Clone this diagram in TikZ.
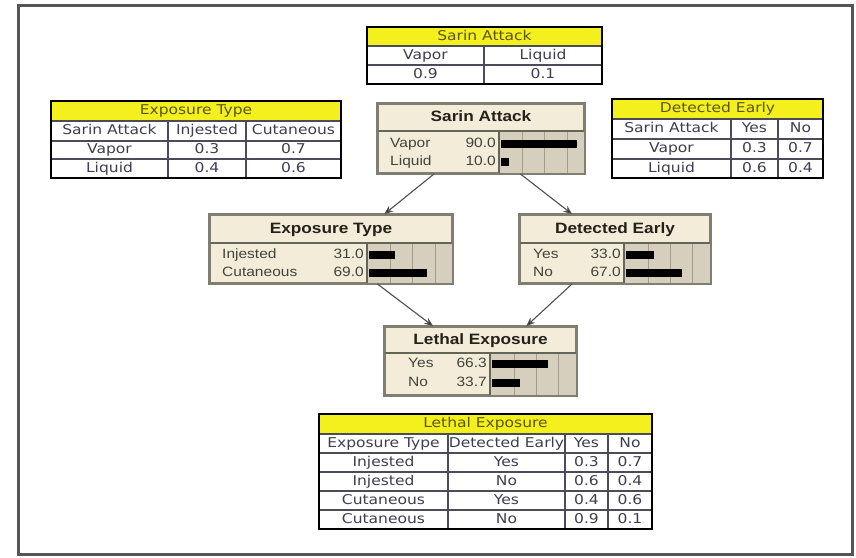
\documentclass[tikz,border=0pt]{standalone}
\usepackage{fontspec}
\setmainfont{Liberation Sans}
\newfontfamily\tabfont[FakeStretch=1.15]{DejaVu Sans}
\newfontfamily\netfont[FakeStretch=1.15]{Liberation Sans}
\usetikzlibrary{arrows.meta,calc}

\definecolor{frameink}{RGB}{85,85,85}
\definecolor{cptyellow}{RGB}{244,240,30}
\definecolor{cptink}{RGB}{62,62,80}
\definecolor{cpttitle}{RGB}{90,85,15}
\definecolor{cptline}{RGB}{75,75,90}
\definecolor{nodebg}{RGB}{243,236,216}
\definecolor{barbg}{RGB}{214,207,190}
\definecolor{gridink}{RGB}{165,157,140}
\definecolor{nodeedge}{RGB}{128,126,112}
\definecolor{nodeink}{RGB}{35,33,25}
\definecolor{linkink}{RGB}{80,80,80}

\tikzset{
  frame/.style={draw=frameink, line width=3pt},
  cptbox/.style={fill=white, draw=none, inner sep=0pt},
  cptedge/.style={draw=black, line width=1.8pt},
  cptrule/.style={draw=cptline, line width=1.1pt},
  cpttext/.style={font=\tabfont\fontsize{13.5}{13.5}\selectfont, text=cptink,
    inner sep=0pt, text height=10pt, text depth=3pt, anchor=center},
  cpthead/.style={cpttext, text=cpttitle},
  netbox/.style={fill=nodebg, draw=nodeedge, line width=1.6pt, inner sep=0pt},
  netrule/.style={draw=nodeedge!80!black, line width=1.2pt},
  gridline/.style={draw=gridink, line width=0.9pt},
  nettitle/.style={font=\netfont\bfseries\fontsize{15}{15}\selectfont,
    text=nodeink, inner sep=0pt, text height=11pt, text depth=3pt},
  netstate/.style={font=\netfont\fontsize{13.5}{13.5}\selectfont,
    text=nodeink!85!white, inner sep=0pt, text height=10pt, text depth=3pt},
  link/.style={draw=linkink, line width=1.1pt,
    -{Stealth[length=9pt, width=7pt, fill=black]}},
}

% one state line of a belief box: name, label x, row y, label, value, bar-area left, percent
\newcommand\beliefrow[7]{%
  \node[netstate, anchor=west] (#1l) at (#2,#3) {#4};
  \node[netstate, anchor=east] (#1v) at ({#6-3},#3) {#5};
  \fill[black] ({#6+2},{#3-4}) rectangle ({#6+2+0.84*#7},{#3+4});
}

% shaded bar area with its grid: left, top, right, bottom
\newcommand\bararea[4]{%
  \fill[barbg] (#1,#2) rectangle (#3,#4);
  \foreach \f in {0.28,0.54,0.80}
    \draw[gridline] ({#1+\f*(#3-#1)},#2) -- ({#1+\f*(#3-#1)},#4);
  \draw[netrule] (#1,#2) -- (#1,#4);
}

\begin{document}
\begin{tikzpicture}[x=1pt, y=-1pt]
\useasboundingbox (0,0) rectangle (856,557);
\fill[white] (0,0) rectangle (856,557);
\draw[frame] (18,5) rectangle (852,554);

% ---------- prior table: Sarin Attack ----------
\node[cptbox, minimum width=235pt, minimum height=57pt] (cptSA) at (484.5,55.5) {};
\fill[cptyellow] (367,27) rectangle (602,46);
\draw[cptrule] (367,46) -- (602,46) (367,65) -- (602,65);
\draw[cptrule] (484,46) -- (484,84);
\draw[cptedge] (cptSA.north west) rectangle (cptSA.south east);
\node[cpthead] (cptSAt) at (484.5,36.5) {Sarin Attack};
\node[cpttext] (cptSAa) at (425.5,55.5) {Vapor};
\node[cpttext] (cptSAb) at (543,55.5) {Liquid};
\node[cpttext] (cptSAc) at (425.5,74.5) {0.9};
\node[cpttext] (cptSAd) at (543,74.5) {0.1};

% ---------- conditional table: Exposure Type ----------
\node[cptbox, minimum width=290pt, minimum height=77pt] (cptET) at (196,139.5) {};
\fill[cptyellow] (51,101) rectangle (341,121);
\draw[cptrule] (51,121) -- (341,121) (51,141) -- (341,141) (51,159) -- (341,159);
\draw[cptrule] (168,121) -- (168,178) (246,121) -- (246,178);
\draw[cptedge] (cptET.north west) rectangle (cptET.south east);
\node[cpthead] (cptETt) at (196,111) {Exposure Type};
\node[cpttext] (cptETh1) at (109.5,131) {Sarin Attack};
\node[cpttext] (cptETh2) at (207,131) {Injested};
\node[cpttext] (cptETh3) at (293.5,131) {Cutaneous};
\node[cpttext] (cptETa1) at (109.5,150) {Vapor};
\node[cpttext] (cptETa2) at (207,150) {0.3};
\node[cpttext] (cptETa3) at (293.5,150) {0.7};
\node[cpttext] (cptETb1) at (109.5,168.5) {Liquid};
\node[cpttext] (cptETb2) at (207,168.5) {0.4};
\node[cpttext] (cptETb3) at (293.5,168.5) {0.6};

% ---------- conditional table: Detected Early ----------
\node[cptbox, minimum width=211pt, minimum height=79pt] (cptDE) at (717.5,138.5) {};
\fill[cptyellow] (612,99) rectangle (823,119);
\draw[cptrule] (612,119) -- (823,119) (612,139) -- (823,139) (612,159) -- (823,159);
\draw[cptrule] (731,119) -- (731,178) (778,119) -- (778,178);
\draw[cptedge] (cptDE.north west) rectangle (cptDE.south east);
\node[cpthead] (cptDEt) at (717.5,109) {Detected Early};
\node[cpttext] (cptDEh1) at (671.5,129) {Sarin Attack};
\node[cpttext] (cptDEh2) at (754.5,129) {Yes};
\node[cpttext] (cptDEh3) at (800.5,129) {No};
\node[cpttext] (cptDEa1) at (671.5,149) {Vapor};
\node[cpttext] (cptDEa2) at (754.5,149) {0.3};
\node[cpttext] (cptDEa3) at (800.5,149) {0.7};
\node[cpttext] (cptDEb1) at (671.5,168.5) {Liquid};
\node[cpttext] (cptDEb2) at (754.5,168.5) {0.6};
\node[cpttext] (cptDEb3) at (800.5,168.5) {0.4};

% ---------- conditional table: Lethal Exposure ----------
\node[cptbox, minimum width=333pt, minimum height=115pt] (cptLE) at (485.5,471.5) {};
\fill[cptyellow] (319,414) rectangle (652,434);
\foreach \yy in {434,453,472,491,510}
  \draw[cptrule] (319,\yy) -- (652,\yy);
\foreach \xx in {448,565,608}
  \draw[cptrule] (\xx,434) -- (\xx,529);
\draw[cptedge] (cptLE.north west) rectangle (cptLE.south east);
\node[cpthead] (cptLEt) at (485.5,424) {Lethal Exposure};
\node[cpttext] (cptLEh1) at (383.5,443.5) {Exposure Type};
\node[cpttext] (cptLEh2) at (506.5,443.5) {Detected Early};
\node[cpttext] (cptLEh3) at (586.5,443.5) {Yes};
\node[cpttext] (cptLEh4) at (630,443.5) {No};
\node[cpttext] (cptLEa1) at (383.5,462.5) {Injested};
\node[cpttext] (cptLEa2) at (506.5,462.5) {Yes};
\node[cpttext] (cptLEa3) at (586.5,462.5) {0.3};
\node[cpttext] (cptLEa4) at (630,462.5) {0.7};
\node[cpttext] (cptLEb1) at (383.5,481.5) {Injested};
\node[cpttext] (cptLEb2) at (506.5,481.5) {No};
\node[cpttext] (cptLEb3) at (586.5,481.5) {0.6};
\node[cpttext] (cptLEb4) at (630,481.5) {0.4};
\node[cpttext] (cptLEc1) at (383.5,500.5) {Cutaneous};
\node[cpttext] (cptLEc2) at (506.5,500.5) {Yes};
\node[cpttext] (cptLEc3) at (586.5,500.5) {0.4};
\node[cpttext] (cptLEc4) at (630,500.5) {0.6};
\node[cpttext] (cptLEd1) at (383.5,519.5) {Cutaneous};
\node[cpttext] (cptLEd2) at (506.5,519.5) {No};
\node[cpttext] (cptLEd3) at (586.5,519.5) {0.9};
\node[cpttext] (cptLEd4) at (630,519.5) {0.1};

% ---------- belief box: Sarin Attack ----------
\node[netbox, minimum width=206pt, minimum height=69pt] (nSA) at (481,138.5) {};
\bararea{499}{131}{584}{173}
\draw[netrule] (378,131) -- (584,131);
\draw[draw=nodeedge, line width=1.6pt] (nSA.north west) rectangle (nSA.south east);
\node[nettitle] (nSAt) at (481,117.5) {Sarin Attack};
\beliefrow{nSAa}{390}{144}{Vapor}{90.0}{499}{90}
\beliefrow{nSAb}{390}{162}{Liquid}{10.0}{499}{10}

% ---------- belief box: Exposure Type ----------
\node[netbox, minimum width=242pt, minimum height=68pt] (nET) at (331,249) {};
\bararea{367}{243}{452}{283}
\draw[netrule] (210,243) -- (452,243);
\draw[draw=nodeedge, line width=1.6pt] (nET.north west) rectangle (nET.south east);
\node[nettitle] (nETt) at (331,229) {Exposure Type};
\beliefrow{nETa}{222}{254.5}{Injested}{31.0}{367}{31}
\beliefrow{nETb}{222}{273}{Cutaneous}{69.0}{367}{69}

% ---------- belief box: Detected Early ----------
\node[netbox, minimum width=190pt, minimum height=68pt] (nDE) at (615,249) {};
\bararea{624}{243}{710}{283}
\draw[netrule] (520,243) -- (710,243);
\draw[draw=nodeedge, line width=1.6pt] (nDE.north west) rectangle (nDE.south east);
\node[nettitle] (nDEt) at (615,229) {Detected Early};
\beliefrow{nDEa}{533}{254.5}{Yes}{33.0}{624}{33}
\beliefrow{nDEb}{533}{273}{No}{67.0}{624}{67}

% ---------- belief box: Lethal Exposure ----------
\node[netbox, minimum width=191pt, minimum height=68pt] (nLE) at (480.5,361) {};
\bararea{490}{353}{576}{395}
\draw[netrule] (385,353) -- (576,353);
\draw[draw=nodeedge, line width=1.6pt] (nLE.north west) rectangle (nLE.south east);
\node[nettitle] (nLEt) at (480.5,340) {Lethal Exposure};
\beliefrow{nLEa}{408}{364}{Yes}{66.3}{490}{66.3}
\beliefrow{nLEb}{408}{382.5}{No}{33.7}{490}{33.7}

% ---------- links ----------
\draw[link] ($(nSA.south west)+(57,0)$) -- ($(nET.north west)+(175,0)$);
\draw[link] ($(nSA.south west)+(143,0)$) -- ($(nDE.north west)+(53,0)$);
\draw[link] ($(nET.south west)+(168,0)$) -- ($(nLE.north west)+(49,0)$);
\draw[link] ($(nDE.south west)+(53,0)$) -- ($(nLE.north west)+(142,0)$);
\end{tikzpicture}
\end{document}
